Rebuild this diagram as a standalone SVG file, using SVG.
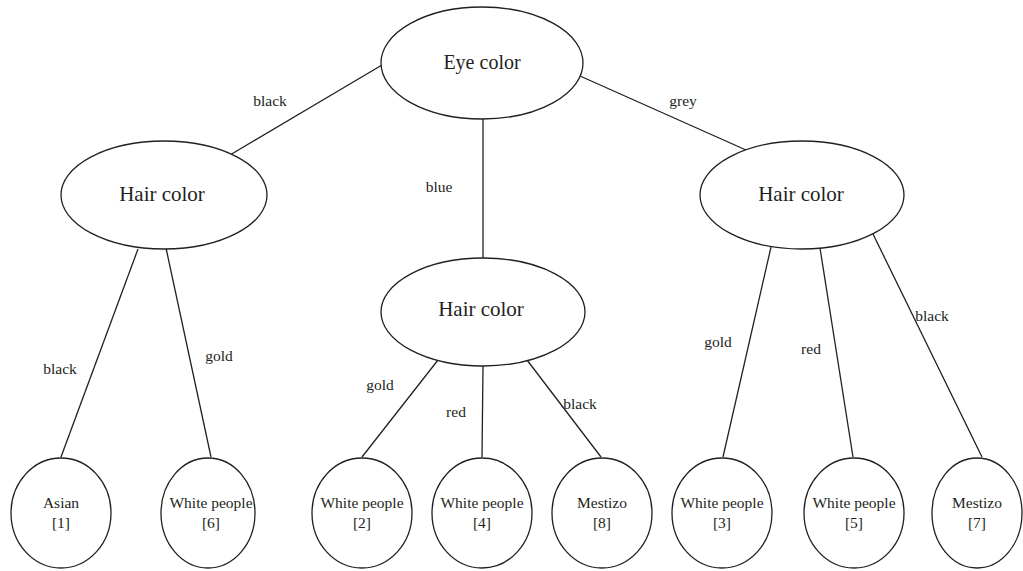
<svg xmlns="http://www.w3.org/2000/svg" width="1023" height="571" viewBox="0 0 1023 571">
  <style>
    .node { fill: #ffffff; stroke: #231f20; stroke-width: 1.3; }
    .edge { stroke: #231f20; stroke-width: 1.3; fill: none; }
  </style>
  <rect width="1023" height="571" fill="#ffffff"/>

  <!-- connectors and branch labels -->
  <g id="connectors">
    <line class="edge" x1="382" y1="65" x2="230" y2="155"/>
    <line class="edge" x1="483" y1="119" x2="483" y2="258"/>
    <line class="edge" x1="580" y1="76" x2="746" y2="150"/>

    <line class="edge" x1="138" y1="249" x2="61" y2="457"/>
    <line class="edge" x1="166" y1="248" x2="211" y2="457"/>

    <line class="edge" x1="438" y1="360" x2="362" y2="457"/>
    <line class="edge" x1="483" y1="366" x2="482" y2="457"/>
    <line class="edge" x1="527" y1="360" x2="601" y2="457"/>

    <line class="edge" x1="771" y1="247" x2="723" y2="457"/>
    <line class="edge" x1="820" y1="248" x2="853" y2="457"/>
    <line class="edge" x1="873" y1="234" x2="982" y2="457"/>

    <text x="270" y="106" font-family="Liberation Serif" font-size="15.5" fill="#231f20" text-anchor="middle">black</text>
    <text x="439" y="192" font-family="Liberation Serif" font-size="15.5" fill="#231f20" text-anchor="middle">blue</text>
    <text x="683" y="106" font-family="Liberation Serif" font-size="15.5" fill="#231f20" text-anchor="middle">grey</text>
    <text x="60" y="374" font-family="Liberation Serif" font-size="15.5" fill="#231f20" text-anchor="middle">black</text>
    <text x="219" y="361" font-family="Liberation Serif" font-size="15.5" fill="#231f20" text-anchor="middle">gold</text>
    <text x="380" y="390" font-family="Liberation Serif" font-size="15.5" fill="#231f20" text-anchor="middle">gold</text>
    <text x="456" y="417" font-family="Liberation Serif" font-size="15.5" fill="#231f20" text-anchor="middle">red</text>
    <text x="580" y="409" font-family="Liberation Serif" font-size="15.5" fill="#231f20" text-anchor="middle">black</text>
    <text x="718" y="347" font-family="Liberation Serif" font-size="15.5" fill="#231f20" text-anchor="middle">gold</text>
    <text x="811" y="354" font-family="Liberation Serif" font-size="15.5" fill="#231f20" text-anchor="middle">red</text>
    <text x="932" y="321" font-family="Liberation Serif" font-size="15.5" fill="#231f20" text-anchor="middle">black</text>
  </g>

  <!-- root -->
  <g id="eye-color">
    <ellipse class="node" cx="482" cy="63" rx="101" ry="56"/>
    <text x="482" y="69" font-family="Liberation Serif" font-size="20" fill="#231f20" text-anchor="middle">Eye color</text>
  </g>

  <!-- second level -->
  <g id="hair-color-black">
    <ellipse class="node" cx="164" cy="195" rx="103" ry="54"/>
    <text x="162" y="201" font-family="Liberation Serif" font-size="21" fill="#231f20" text-anchor="middle">Hair color</text>
  </g>
  <g id="hair-color-blue">
    <ellipse class="node" cx="483" cy="312" rx="102" ry="54"/>
    <text x="481" y="316" font-family="Liberation Serif" font-size="21" fill="#231f20" text-anchor="middle">Hair color</text>
  </g>
  <g id="hair-color-grey">
    <ellipse class="node" cx="802" cy="195" rx="102" ry="54"/>
    <text x="801" y="201" font-family="Liberation Serif" font-size="21" fill="#231f20" text-anchor="middle">Hair color</text>
  </g>

  <!-- leaves -->
  <g id="leaf-1">
    <ellipse class="node" cx="61" cy="513" rx="50" ry="55"/>
    <text x="61" y="508" font-family="Liberation Serif" font-size="15.5" fill="#231f20" text-anchor="middle">Asian</text>
    <text x="61" y="528" font-family="Liberation Serif" font-size="15.5" fill="#231f20" text-anchor="middle">[1]</text>
  </g>
  <g id="leaf-6">
    <ellipse class="node" cx="208" cy="513" rx="47" ry="55"/>
    <text x="211" y="508" font-family="Liberation Serif" font-size="15.5" fill="#231f20" text-anchor="middle">White people</text>
    <text x="211" y="528" font-family="Liberation Serif" font-size="15.5" fill="#231f20" text-anchor="middle">[6]</text>
  </g>
  <g id="leaf-2">
    <ellipse class="node" cx="362" cy="513" rx="50" ry="55"/>
    <text x="362" y="508" font-family="Liberation Serif" font-size="15.5" fill="#231f20" text-anchor="middle">White people</text>
    <text x="362" y="528" font-family="Liberation Serif" font-size="15.5" fill="#231f20" text-anchor="middle">[2]</text>
  </g>
  <g id="leaf-4">
    <ellipse class="node" cx="482" cy="513" rx="50" ry="55"/>
    <text x="482" y="508" font-family="Liberation Serif" font-size="15.5" fill="#231f20" text-anchor="middle">White people</text>
    <text x="482" y="528" font-family="Liberation Serif" font-size="15.5" fill="#231f20" text-anchor="middle">[4]</text>
  </g>
  <g id="leaf-8">
    <ellipse class="node" cx="602" cy="513" rx="50" ry="55"/>
    <text x="602" y="508" font-family="Liberation Serif" font-size="15.5" fill="#231f20" text-anchor="middle">Mestizo</text>
    <text x="602" y="528" font-family="Liberation Serif" font-size="15.5" fill="#231f20" text-anchor="middle">[8]</text>
  </g>
  <g id="leaf-3">
    <ellipse class="node" cx="722" cy="513" rx="50" ry="55"/>
    <text x="722" y="508" font-family="Liberation Serif" font-size="15.5" fill="#231f20" text-anchor="middle">White people</text>
    <text x="722" y="528" font-family="Liberation Serif" font-size="15.5" fill="#231f20" text-anchor="middle">[3]</text>
  </g>
  <g id="leaf-5">
    <ellipse class="node" cx="854" cy="513" rx="50" ry="55"/>
    <text x="854" y="508" font-family="Liberation Serif" font-size="15.5" fill="#231f20" text-anchor="middle">White people</text>
    <text x="854" y="528" font-family="Liberation Serif" font-size="15.5" fill="#231f20" text-anchor="middle">[5]</text>
  </g>
  <g id="leaf-7">
    <ellipse class="node" cx="977" cy="513" rx="45" ry="55"/>
    <text x="977" y="508" font-family="Liberation Serif" font-size="15.5" fill="#231f20" text-anchor="middle">Mestizo</text>
    <text x="977" y="528" font-family="Liberation Serif" font-size="15.5" fill="#231f20" text-anchor="middle">[7]</text>
  </g>
</svg>
